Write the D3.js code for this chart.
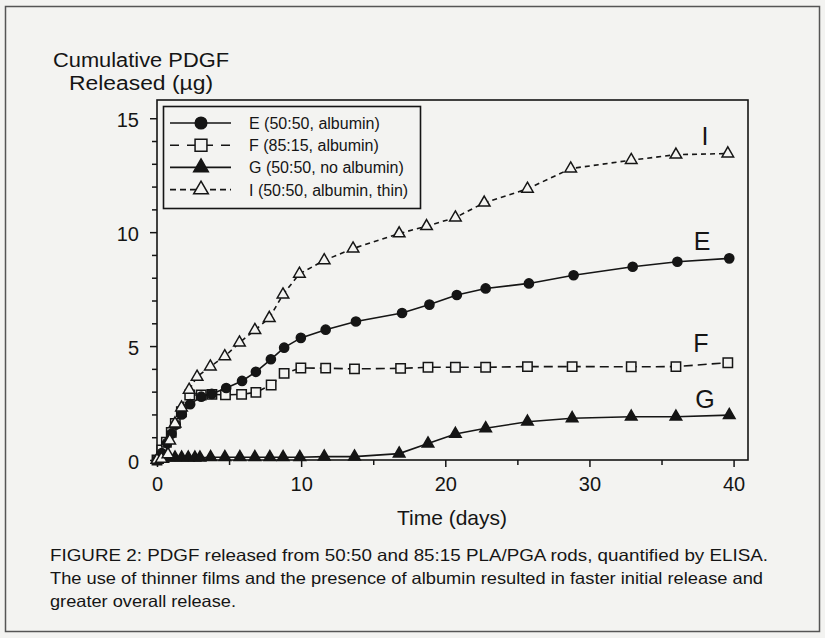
<!DOCTYPE html>
<html><head><meta charset="utf-8">
<script src="https://cdn.jsdelivr.net/npm/d3@7/dist/d3.min.js"></script>
<style>body{margin:0;background:#f3f3f1;} text{font-family:"Liberation Sans",Arial,Helvetica,sans-serif;fill:#151515;}</style>
</head><body>
<svg id="chart" width="825" height="638"></svg>
<script>
// ---- data ----
const daysE   = [0,0.33,0.7,1.0,1.3,1.72,2.3,3.07,3.8,4.8,5.9,6.86,7.9,8.82,9.98,11.7,13.8,17.0,18.9,20.8,22.8,25.8,28.9,33.0,36.1,39.7];
const valuesE = [0,0.3,0.75,1.15,1.55,2.0,2.45,2.78,2.9,3.16,3.47,3.87,4.42,4.93,5.36,5.72,6.08,6.45,6.82,7.24,7.53,7.75,8.11,8.48,8.70,8.85];

const daysF   = [0,0.33,0.65,0.99,1.27,1.69,2.27,3.07,3.81,4.75,5.87,6.86,7.92,8.82,9.98,11.7,13.7,16.9,18.8,20.7,22.8,25.7,28.8,32.9,36.0,39.6];
const valuesF = [0,0.44,0.78,1.21,1.61,2.12,2.85,2.85,2.88,2.86,2.88,2.97,3.29,3.8,4.04,4.03,4.0,4.02,4.07,4.07,4.07,4.1,4.1,4.09,4.1,4.27];

const daysG   = [0,0.4,0.78,1.25,1.71,2.17,2.63,2.98,3.72,4.71,5.75,6.79,7.83,8.75,9.91,11.6,13.7,16.8,18.8,20.7,22.8,25.7,28.8,32.9,36.0,39.7];
const valuesG = [0,0.05,0.1,0.1,0.1,0.1,0.1,0.1,0.12,0.12,0.12,0.12,0.12,0.12,0.12,0.15,0.15,0.28,0.72,1.14,1.39,1.68,1.83,1.9,1.9,1.97];

const daysI   = [0,0.3,0.76,0.88,1.25,1.7,2.23,2.78,3.7,4.7,5.72,6.79,7.79,8.74,9.88,11.6,13.6,16.8,18.7,20.7,22.7,25.7,28.7,32.9,36.0,39.6];
const valuesI = [0,0.05,0.25,0.85,1.6,2.3,3.08,3.65,4.1,4.55,5.15,5.70,6.23,7.26,8.17,8.76,9.28,9.94,10.26,10.64,11.29,11.9,12.79,13.16,13.4,13.45];

const seriesKeys   = ["E","F","G","I"];
const legendLabels = ["E (50:50, albumin)","F (85:15, albumin)","G (50:50, no albumin)","I (50:50, albumin, thin)"];
const xTicks = [0,10,20,30,40];
const xMinorTicks = [5,15,25,35];
const yTicks = [0,5,10,15];
const yMinorTicks = [1,2,3,4,6,7,8,9,11,12,13,14];
const yTitle = ["Cumulative PDGF","Released (\u00b5g)"];
const xTitle = "Time (days)";
const caption = ["FIGURE 2:  PDGF released from 50:50 and 85:15 PLA/PGA rods, quantified by ELISA.",
                 "The use of thinner films and the presence of albumin resulted in faster initial release and",
                 "greater overall release."];

// ---- drawing ----
const svg = d3.select("#chart");
const ink = "#151515";
const bg = "#f3f3f1";

svg.append("rect").attr("x",5.5).attr("y",6.5).attr("width",814).attr("height",625)
  .attr("fill",bg).attr("stroke","#555").attr("stroke-width",1.5);

const x = d3.scaleLinear().domain([0,41]).range([157,748]);
const y = d3.scaleLinear().domain([0,15.8]).range([460,100]);

// plot frame
svg.append("rect").attr("x",x(0)).attr("y",y(15.8)).attr("width",x(41)-x(0)).attr("height",y(0)-y(15.8))
  .attr("fill","none").attr("stroke",ink).attr("stroke-width",1.6);

// axes
const fs = 20;
const gx = svg.append("g").attr("transform",`translate(0,${y(0)})`)
  .call(d3.axisBottom(x).tickValues(xTicks).tickSize(7).tickPadding(10).tickFormat(d3.format("d")));
const gxm = svg.append("g").attr("transform",`translate(0,${y(0)})`)
  .call(d3.axisBottom(x).tickValues(xMinorTicks).tickSize(5).tickFormat(""));
const gy = svg.append("g").attr("transform",`translate(${x(0)},0)`)
  .call(d3.axisLeft(y).tickValues(yTicks).tickSize(7).tickPadding(11).tickFormat(d3.format("d")));
const gym = svg.append("g").attr("transform",`translate(${x(0)},0)`)
  .call(d3.axisLeft(y).tickValues(yMinorTicks).tickSize(5).tickFormat(""));
[gx,gxm,gy,gym].forEach(g=>{
  g.select(".domain").remove();
  g.selectAll("line").attr("stroke",ink).attr("stroke-width",1.5);
  g.selectAll("text").attr("font-size",fs).attr("font-family","Liberation Sans, Arial, sans-serif").attr("fill",ink);
});
gy.selectAll("text").attr("dy","0.42em");

// titles
svg.append("text").attr("x",141).attr("y",67).attr("text-anchor","middle").attr("font-size",20)
  .attr("textLength",176).attr("lengthAdjust","spacingAndGlyphs").text(yTitle[0]);
svg.append("text").attr("x",141).attr("y",90).attr("text-anchor","middle").attr("font-size",20)
  .attr("textLength",144).attr("lengthAdjust","spacingAndGlyphs").text(yTitle[1]);
svg.append("text").attr("x",452).attr("y",525).attr("text-anchor","middle").attr("font-size",21).text(xTitle);

// caption
const capW = [718,713,186];
caption.forEach((c,i)=>{
  svg.append("text").attr("x",50).attr("y",561+i*23).attr("font-size",16.5)
    .attr("textLength",capW[i]).attr("lengthAdjust","spacingAndGlyphs").text(c);
});

// series
const seriesData = {
  E: daysE.map((d,i)=>[d,valuesE[i]]),
  F: daysF.map((d,i)=>[d,valuesF[i]]),
  G: daysG.map((d,i)=>[d,valuesG[i]]),
  I: daysI.map((d,i)=>[d,valuesI[i]])
};
const style = {
  E:{dash:null, sym:d3.symbolCircle, size:66, fill:ink},
  F:{dash:"9,5", sym:d3.symbolSquare, size:88, fill:bg},
  G:{dash:null, sym:d3.symbolTriangle, size:58, fill:ink},
  I:{dash:"5,4", sym:d3.symbolTriangle, size:58, fill:bg}
};
const line = d3.line().x(d=>x(d[0])).y(d=>y(d[1]));
const drawOrder = ["G","F","E","I"];
drawOrder.forEach(k=>{
  const s = style[k];
  svg.append("path").datum(seriesData[k]).attr("d",line).attr("fill","none")
    .attr("stroke",ink).attr("stroke-width",1.6).attr("stroke-dasharray",s.dash);
});
drawOrder.forEach(k=>{
  const s = style[k];
  svg.append("g").selectAll("path").data(seriesData[k]).join("path")
    .attr("transform",d=>`translate(${x(d[0])},${y(d[1])})`)
    .attr("d",d3.symbol().type(s.sym).size(s.size))
    .attr("fill",s.fill).attr("stroke",ink).attr("stroke-width",1.5);
});

// end labels
const endLabels = [["I",705,145],["E",702,250],["F",701,352],["G",705,408]];
endLabels.forEach(l=>{
  svg.append("text").attr("x",l[1]).attr("y",l[2]).attr("text-anchor","middle").attr("font-size",25).text(l[0]);
});

// legend
const lg = svg.append("g");
lg.append("rect").attr("x",163.5).attr("y",106.5).attr("width",257).attr("height",102)
  .attr("fill",bg).attr("stroke",ink).attr("stroke-width",1.6);
seriesKeys.forEach((k,i)=>{
  const s = style[k];
  const yy = 123 + i*22.2;
  lg.append("line").attr("x1",170).attr("x2",231).attr("y1",yy).attr("y2",yy)
    .attr("stroke",ink).attr("stroke-width",1.6)
    .attr("stroke-dasharray", k==="F" ? "9,8" : (k==="I" ? "6,4" : null));
  lg.append("path").attr("transform",`translate(201,${yy})`)
    .attr("d",d3.symbol().type(s.sym).size(s.size*1.6))
    .attr("fill",s.fill).attr("stroke",ink).attr("stroke-width",1.5);
  lg.append("text").attr("x",249).attr("y",yy+6).attr("font-size",16).text(legendLabels[i]);
});
</script>
</body></html>
